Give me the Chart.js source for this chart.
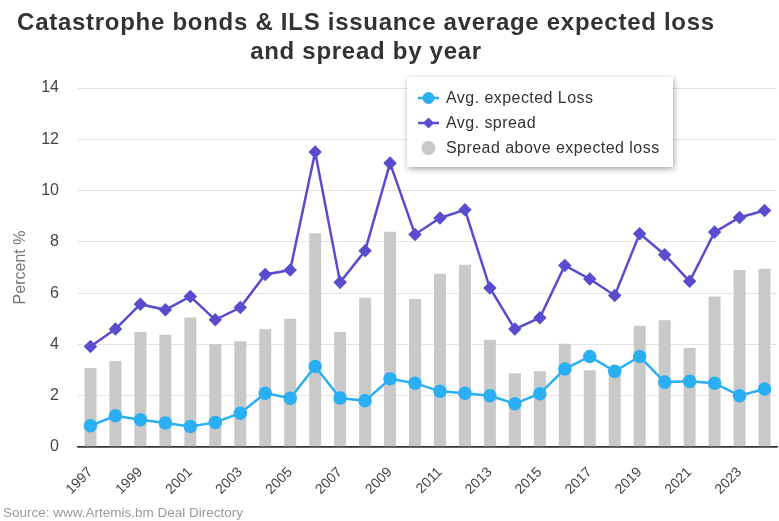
<!DOCTYPE html>
<html>
<head>
<meta charset="utf-8">
<title>Cat bonds expected loss and spread</title>
<script src="https://cdn.jsdelivr.net/npm/chart.js@4.4.1/dist/chart.umd.min.js"></script>
<style>
    body { margin: 0; background: #fff; font-family: "Liberation Sans", Arial, sans-serif; }
    .wrap { position: relative; width: 779px; height: 521px; }
    .chart-title {
        position: absolute; left: 0; top: 7px; width: 732px;
        text-align: center; font-weight: bold; font-size: 24px; letter-spacing: 0.72px;
        line-height: 29px; color: #333;
    }
    .chart-source {
        position: absolute; left: 3px; top: 505px;
        font-size: 13.5px; color: #9a9a9a;
    }
</style>
</head>
<body>
<div class="wrap">
    <canvas id="catChart" width="779" height="521"></canvas>
    <div class="chart-title">Catastrophe bonds &amp; ILS issuance average expected loss<br>and spread by year</div>
    <div class="chart-source">Source: www.Artemis.bm Deal Directory</div>
</div>
<script>
// Issuance data by year (percent)
const years = ['1997', '1998', '1999', '2000', '2001', '2002', '2003', '2004', '2005', '2006',
    '2007', '2008', '2009', '2010', '2011', '2012', '2013', '2014', '2015', '2016',
    '2017', '2018', '2019', '2020', '2021', '2022', '2023', '2024'];
const expectedLoss = [0.83, 1.22, 1.06, 0.94, 0.80, 0.96, 1.32, 2.10, 1.90, 3.14,
    1.91, 1.80, 2.66, 2.49, 2.17, 2.10, 2.00, 1.69, 2.08, 3.04,
    3.53, 2.95, 3.53, 2.53, 2.56, 2.49, 2.00, 2.26];
const avgSpread = [3.92, 4.60, 5.57, 5.35, 5.87, 4.96, 5.44, 6.73, 6.90, 11.50,
    6.42, 7.65, 11.07, 8.29, 8.93, 9.25, 6.20, 4.60, 5.04, 7.08,
    6.55, 5.91, 8.32, 7.50, 6.46, 8.38, 8.95, 9.22];
const spreadAboveLoss = [3.08, 3.35, 4.48, 4.38, 5.05, 4.02, 4.12, 4.60, 5.00, 8.34,
    4.48, 5.82, 8.39, 5.77, 6.76, 7.11, 4.18, 2.88, 2.95, 4.03,
    2.99, 2.96, 4.73, 4.94, 3.86, 5.87, 6.90, 6.95];
const yMax = 14;
const yStep = 2;

const LOSS_COLOR = '#2aaff3';
const SPREAD_COLOR = '#5a4cce';
const BAR_COLOR = '#c9c9c9';
const FONT = '"Liberation Sans", Arial, sans-serif';

// Boxed legend drawn inside the plot area
const boxLegend = {
    id: 'boxLegend',
    afterDraw(chart) {
        const ctx = chart.ctx;
        const x = 407, y = 77, w = 266, h = 90;
        ctx.save();
        ctx.shadowColor = 'rgba(0,0,0,0.35)';
        ctx.shadowBlur = 6;
        ctx.shadowOffsetX = 1;
        ctx.shadowOffsetY = 2;
        ctx.fillStyle = '#fff';
        ctx.fillRect(x, y, w, h);
        ctx.restore();

        const rows = chart.data.datasets;
        const rowY = [98, 123, 148];
        ctx.save();
        ctx.font = '16px ' + FONT;
        ctx.letterSpacing = '0.45px';
        ctx.textBaseline = 'middle';
        rows.forEach((ds, i) => {
            const cy = rowY[i];
            if (ds.type === 'line') {
                ctx.strokeStyle = ds.borderColor;
                ctx.lineWidth = 2.5;
                ctx.beginPath();
                ctx.moveTo(418, cy);
                ctx.lineTo(439, cy);
                ctx.stroke();
                ctx.fillStyle = ds.pointBackgroundColor;
                ctx.strokeStyle = ds.pointBackgroundColor;
                ctx.lineWidth = 1;
                Chart.helpers.drawPoint(ctx, {
                    pointStyle: ds.pointStyle,
                    radius: ds.pointRadius,
                    rotation: 0,
                    borderWidth: 1
                }, 428.5, cy);
            } else {
                ctx.fillStyle = ds.backgroundColor;
                ctx.beginPath();
                ctx.arc(428.5, cy, 7, 0, Math.PI * 2);
                ctx.fill();
            }
            ctx.fillStyle = '#333';
            ctx.fillText(ds.label, 446, cy + 1);
        });
        ctx.restore();
    }
};

const ctx = document.getElementById('catChart').getContext('2d');
new Chart(ctx, {
    data: {
        labels: years,
        datasets: [{
            type: 'line',
            label: 'Avg. expected Loss',
            data: expectedLoss,
            borderColor: LOSS_COLOR,
            backgroundColor: LOSS_COLOR,
            pointBackgroundColor: LOSS_COLOR,
            pointBorderColor: LOSS_COLOR,
            pointStyle: 'circle',
            pointRadius: 5.5,
            borderWidth: 2.5,
            tension: 0,
            order: 1
        }, {
            type: 'line',
            label: 'Avg. spread',
            data: avgSpread,
            borderColor: SPREAD_COLOR,
            backgroundColor: SPREAD_COLOR,
            pointBackgroundColor: SPREAD_COLOR,
            pointBorderColor: SPREAD_COLOR,
            pointStyle: 'rectRot',
            pointRadius: 5,
            borderWidth: 2.5,
            tension: 0,
            order: 2
        }, {
            type: 'bar',
            label: 'Spread above expected loss',
            data: spreadAboveLoss,
            backgroundColor: BAR_COLOR,
            barPercentage: 0.48,
            categoryPercentage: 1,
            order: 3
        }]
    },
    options: {
        responsive: false,
        animation: false,
        layout: {
            autoPadding: false,
            padding: { top: 88, right: 2, bottom: 0, left: 0 }
        },
        plugins: {
            legend: { display: false },
            tooltip: { enabled: false }
        },
        scales: {
            x: {
                offset: true,
                grid: { display: false },
                border: { display: true, color: '#333', width: 1.5 },
                ticks: {
                    autoSkip: false,
                    minRotation: 45,
                    maxRotation: 45,
                    padding: 9,
                    color: '#444',
                    font: { size: 14, family: FONT },
                    callback: function(value, index) {
                        return index % 2 === 0 ? years[index] : '';
                    }
                },
                afterFit: function(scale) {
                    scale.height = 74;
                    scale.paddingLeft = 0;
                    scale.paddingRight = 0;
                }
            },
            y: {
                min: 0,
                max: yMax,
                border: { display: false },
                grid: {
                    drawTicks: false,
                    color: c => c.tick.value === 0 ? '#333' : '#e3e3e3',
                    lineWidth: c => c.tick.value === 0 ? 1.5 : 1
                },
                ticks: {
                    stepSize: yStep,
                    padding: 19,
                    color: '#444',
                    font: { size: 16, family: FONT }
                },
                title: {
                    display: true,
                    text: 'Percent %',
                    color: '#777',
                    padding: { top: 11, bottom: 0 },
                    font: { size: 16, family: FONT }
                },
                afterFit: function(scale) {
                    scale.width = 78;
                }
            }
        }
    },
    plugins: [boxLegend]
});
</script>
</body>
</html>
